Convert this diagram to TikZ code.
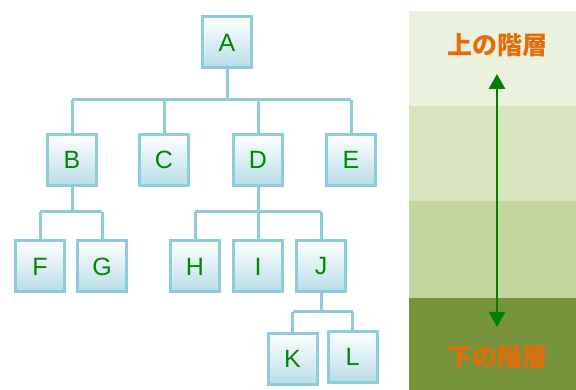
\documentclass[tikz,border=0pt]{standalone}
\usepackage{fontspec}
\setmainfont{Liberation Sans}
\newfontfamily\jpfont{Noto Sans CJK JP}
\usetikzlibrary{arrows.meta}
\definecolor{boxborder}{HTML}{8ECBDB}
\definecolor{boxbottom}{HTML}{B7DDE8}
\definecolor{lettergreen}{HTML}{008A00}
\definecolor{bandA}{HTML}{EAF1DD}
\definecolor{bandB}{HTML}{D7E4BD}
\definecolor{bandC}{HTML}{C3D69B}
\definecolor{bandD}{HTML}{77933C}
\definecolor{jporange}{HTML}{E46C0A}
\definecolor{arrowgreen}{HTML}{008000}
\tikzset{
  treebox/.style={draw=boxborder, line width=3pt, minimum width=49pt, minimum height=51pt,
    inner sep=0pt, top color=white, bottom color=boxbottom, text=lettergreen,
    font=\fontsize{25}{25}\selectfont},
  treeline/.style={draw=boxborder, line width=3pt},
  jplabel/.style={text=jporange, font=\jpfont\bfseries\fontsize{25}{25}\selectfont, inner sep=0pt}
}
\begin{document}
\begin{tikzpicture}[x=1pt,y=-1pt]
\useasboundingbox (0,0) rectangle (576,390);
% right bands
\fill[bandA] (409,11) rectangle (576,106);
\fill[bandB] (409,106) rectangle (576,201);
\fill[bandC] (409,201) rectangle (576,298);
\fill[bandD] (409,298) rectangle (576,390);
% nodes
\node[treebox] (A) at (227,42.5) {A};
\node[treebox] (B) at (72,160) {B};
\node[treebox] (C) at (164,160) {C};
\node[treebox] (D) at (258,160) {D};
\node[treebox] (E) at (351,160) {E};
\node[treebox] (F) at (40,266.5) {F};
\node[treebox] (G) at (102,266.5) {G};
\node[treebox] (H) at (195,266.5) {H};
\node[treebox] (I) at (258,266.5) {I};
\node[treebox] (J) at (321,266.5) {J};
\node[treebox] (K) at (292.5,359) {K};
\node[treebox] (L) at (352.5,357) {L};
% bus coordinates
\coordinate (busA) at (0,100);
\coordinate (busB) at (0,212);
\coordinate (busD) at (0,212);
\coordinate (busJ) at (0,312);
% connectors
\draw[treeline] (A.south) -- (A.south |- busA);
\draw[treeline] (B.north |- busA) -- (E.north |- busA);
\foreach \c in {B,C,D,E} \draw[treeline] (\c.north |- busA) -- (\c.north);
\draw[treeline] (B.south) -- (B.south |- busB);
\draw[treeline] (F.north |- busB) -- (G.north |- busB);
\foreach \c in {F,G} \draw[treeline] (\c.north |- busB) -- (\c.north);
\draw[treeline] (D.south) -- (D.south |- busD);
\draw[treeline] (H.north |- busD) -- (J.north |- busD);
\foreach \c in {H,I,J} \draw[treeline] (\c.north |- busD) -- (\c.north);
\draw[treeline] (J.south) -- (J.south |- busJ);
\draw[treeline] (K.north |- busJ) -- (L.north |- busJ);
\foreach \c in {K,L} \draw[treeline] (\c.north |- busJ) -- (\c.north);
% labels and arrow
\node[jplabel] (upper) at (497,45) {上の階層};
\node[jplabel] (lower) at (497,357) {下の階層};
\coordinate (arrtop) at (497,74);
\coordinate (arrbot) at (497,327);
\draw[arrowgreen, line width=2.8pt, {Triangle[width=16pt,length=15pt]}-{Triangle[width=16pt,length=15pt]}] (arrtop) -- (arrbot);
\end{tikzpicture}
\end{document}
